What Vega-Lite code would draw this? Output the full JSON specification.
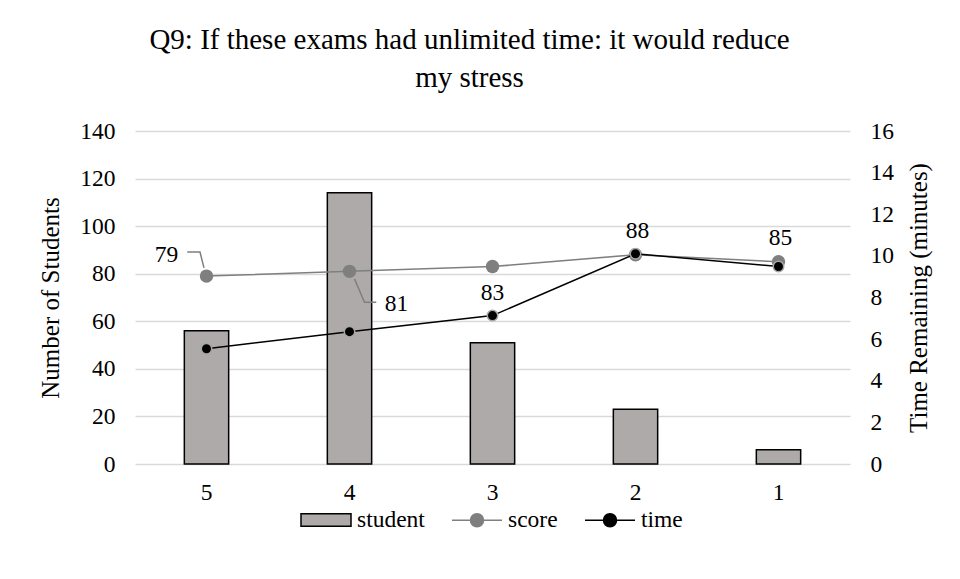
{
  "$schema": "https://vega.github.io/schema/vega-lite/v6.json",
  "width": 715,
  "height": 333,
  "autosize": {"type": "none"},
  "padding": {"left": 135, "top": 131, "right": 110, "bottom": 115},
  "background": "white",
  "title": {
    "text": ["Q9: If these exams had unlimited time: it would reduce", "my stress"],
    "font": "Liberation Serif",
    "fontSize": 29,
    "fontWeight": "normal",
    "color": "#000000",
    "lineHeight": 38,
    "anchor": "middle",
    "dx": -23,
    "offset": 26
  },
  "data": {
    "values": [
      {"response": "5", "student": 56, "score": 79, "time": 5.54},
      {"response": "4", "student": 114, "score": 81, "time": 6.36},
      {"response": "3", "student": 51, "score": 83, "time": 7.13},
      {"response": "2", "student": 23, "score": 88, "time": 10.1},
      {"response": "1", "student": 6, "score": 85, "time": 9.49}
    ]
  },
  "encoding": {
    "x": {
      "field": "response",
      "type": "ordinal",
      "sort": ["5", "4", "3", "2", "1"],
      "scale": {"paddingInner": 0, "paddingOuter": 0},
      "axis": {
        "title": null,
        "labelAngle": 0,
        "domain": false,
        "ticks": false,
        "labelPadding": 16,
        "labelFont": "Liberation Serif",
        "labelFontSize": 23.5,
        "labelColor": "#000000"
      }
    }
  },
  "layer": [
    {
      "encoding": {
        "y": {
          "field": "student",
          "type": "quantitative",
          "scale": {"domain": [0, 140]},
          "axis": {
            "title": "Number of Students",
            "values": [0, 20, 40, 60, 80, 100, 120, 140],
            "grid": true,
            "gridColor": "#D9D9D9",
            "gridWidth": 1.3,
            "domain": false,
            "ticks": false,
            "labelPadding": 20,
            "titlePadding": 16,
            "labelFont": "Liberation Serif",
            "labelFontSize": 23.5,
            "labelColor": "#000000",
            "titleFont": "Liberation Serif",
            "titleFontSize": 25,
            "titleFontWeight": "normal",
            "titleColor": "#000000"
          }
        }
      },
      "layer": [
        {
          "mark": {"type": "bar", "width": {"band": 0.31}, "stroke": "#000000", "strokeWidth": 1.5, "opacity": 1},
          "encoding": {
            "fill": {
              "datum": "student",
              "type": "nominal",
              "scale": {"domain": ["student"], "range": ["#AEAAAA"]},
              "legend": {
                "orient": "none",
                "legendX": 165,
                "legendY": 363,
                "direction": "horizontal",
                "title": null,
                "padding": 0,
                "symbolType": "M-1,-0.25H1V0.25H-1Z",
                "symbolSize": 2500,
                "symbolStrokeColor": "#000000",
                "symbolStrokeWidth": 1.5,
                "symbolOpacity": 1,
                "labelOffset": 5,
                "labelFont": "Liberation Serif",
                "labelFontSize": 23.5,
                "labelColor": "#000000"
              }
            }
          }
        },
        {
          "mark": {"type": "line", "strokeWidth": 1.5},
          "encoding": {
            "y": {"field": "score", "type": "quantitative"},
            "color": {
              "datum": "score",
              "type": "nominal",
              "scale": {"domain": ["score", "time"], "range": ["#7F7F7F", "#000000"]},
              "legend": {
                "orient": "none",
                "legendX": 316,
                "legendY": 363,
                "direction": "horizontal",
                "title": null,
                "padding": 0,
                "symbolType": "M-1,0H-0.26M0.26,0H1M-0.26,0A0.26,0.26 0 1,0 0.26,0A0.26,0.26 0 1,0 -0.26,0Z",
                "symbolSize": 2500,
                "symbolStrokeWidth": 1.5,
                "symbolOpacity": 1,
                "labelOffset": 5,
                "columnPadding": 24,
                "labelFont": "Liberation Serif",
                "labelFontSize": 23.5,
                "labelColor": "#000000",
                "encoding": {
                  "symbols": {
                    "fill": {"value": {"expr": "datum.value === 'score' ? '#7F7F7F' : '#000000'"}},
                    "fillOpacity": {"value": 1}
                  }
                }
              }
            }
          }
        },
        {
          "mark": {"type": "point", "filled": true, "size": 180, "opacity": 1},
          "encoding": {
            "y": {"field": "score", "type": "quantitative"},
            "color": {"datum": "score", "type": "nominal"}
          }
        },
        {
          "transform": [{"filter": "datum.response === '5'"}],
          "mark": {"type": "point", "filled": false, "shape": "M-0.1,-0.33L-0.26,-0.96L-0.77,-0.96", "size": 2500, "stroke": "#7F7F7F", "strokeWidth": 1.5, "opacity": 1},
          "encoding": {"y": {"field": "score", "type": "quantitative"}}
        },
        {
          "transform": [{"filter": "datum.response === '4'"}],
          "mark": {"type": "point", "filled": false, "shape": "M0.2,0.3L0.6,1.24L1.07,1.24", "size": 2500, "stroke": "#7F7F7F", "strokeWidth": 1.5, "opacity": 1},
          "encoding": {"y": {"field": "score", "type": "quantitative"}}
        },
        {
          "transform": [{"filter": "datum.response === '5'"}],
          "mark": {"type": "text", "dx": -40, "dy": -21, "font": "Liberation Serif", "fontSize": 23.5, "color": "#000000", "baseline": "middle", "align": "center"},
          "encoding": {"y": {"field": "score", "type": "quantitative"}, "text": {"field": "score"}}
        },
        {
          "transform": [{"filter": "datum.response === '4'"}],
          "mark": {"type": "text", "dx": 47, "dy": 33, "font": "Liberation Serif", "fontSize": 23.5, "color": "#000000", "baseline": "middle", "align": "center"},
          "encoding": {"y": {"field": "score", "type": "quantitative"}, "text": {"field": "score"}}
        },
        {
          "transform": [{"filter": "datum.response === '3'"}],
          "mark": {"type": "text", "dx": 0, "dy": 26, "font": "Liberation Serif", "fontSize": 23.5, "color": "#000000", "baseline": "middle", "align": "center"},
          "encoding": {"y": {"field": "score", "type": "quantitative"}, "text": {"field": "score"}}
        },
        {
          "transform": [{"filter": "datum.response === '2' || datum.response === '1'"}],
          "mark": {"type": "text", "dx": 2, "dy": -24, "font": "Liberation Serif", "fontSize": 23.5, "color": "#000000", "baseline": "middle", "align": "center"},
          "encoding": {"y": {"field": "score", "type": "quantitative"}, "text": {"field": "score"}}
        }
      ]
    },
    {
      "encoding": {
        "y": {
          "field": "time",
          "type": "quantitative",
          "scale": {"domain": [0, 16]},
          "axis": {
            "orient": "right",
            "title": "Time Remaining (minutes)",
            "values": [0, 2, 4, 6, 8, 10, 12, 14, 16],
            "grid": false,
            "domain": false,
            "ticks": false,
            "labelPadding": 20,
            "titlePadding": 13,
            "titleAngle": -90,
            "titleBaseline": "top",
            "labelFont": "Liberation Serif",
            "labelFontSize": 23.5,
            "labelColor": "#000000",
            "titleFont": "Liberation Serif",
            "titleFontSize": 25,
            "titleFontWeight": "normal",
            "titleColor": "#000000"
          }
        }
      },
      "layer": [
        {
          "mark": {"type": "line", "strokeWidth": 1.5},
          "encoding": {"color": {"datum": "time", "type": "nominal"}}
        },
        {
          "mark": {"type": "point", "filled": true, "size": 110, "stroke": "#A6A6A6", "strokeWidth": 1.5, "opacity": 1},
          "encoding": {"color": {"datum": "time", "type": "nominal"}}
        }
      ]
    }
  ],
  "resolve": {"scale": {"y": "independent"}},
  "config": {"font": "Liberation Serif", "view": {"stroke": null}}
}
